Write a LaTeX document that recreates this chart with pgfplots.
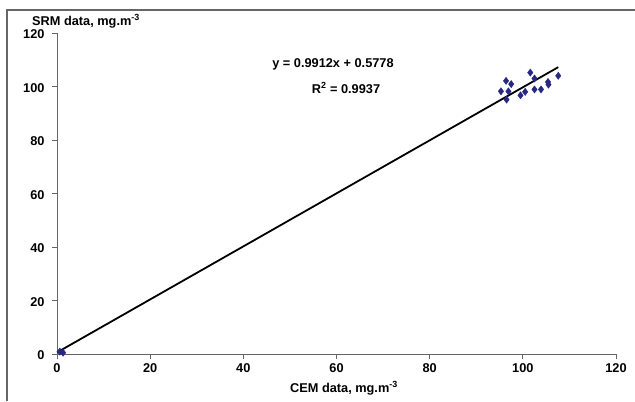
\documentclass[border=0pt]{standalone}
\usepackage{fontspec}
\setmainfont{Liberation Sans}
\usepackage{pgfplots}
\pgfplotsset{compat=1.18}
\definecolor{navy}{RGB}{40,40,130}
\begin{document}
\begin{tikzpicture}[x=1bp,y=1bp]
\path[use as bounding box] (0,0) rectangle (635,401);
\draw[gray!80!black, line width=1.2bp] (7,0) -- (7,391) -- (635,391);
\begin{axis}[
  at={(57bp,47bp)}, anchor=south west,
  scale only axis, width=559bp, height=321bp,
  xmin=0, xmax=120, ymin=0, ymax=120,
  xtick={0,20,...,120}, ytick={0,20,...,120},
  axis x line*=bottom, axis y line*=left,
  axis line style={gray!80!black, line width=0.8bp, -},
  tick align=outside, major tick length=5bp,
  tick style={gray!80!black, line width=0.8bp},
  every tick label/.append style={font=\fontsize{12.8}{15}\selectfont\bfseries},
  yticklabel style={xshift=-4bp, yshift=-1.5bp, inner ysep=1bp},
  xticklabel style={yshift=-1bp},
  /pgf/number format/assume math mode=true,
  clip=false,
]
\addplot[only marks, mark=diamond*, mark size=3.6bp, color=navy] coordinates {
(0.6,0.9) (1.3,0.5)
(96.4,102.1) (97.5,100.9) (95.3,98.2) (96.9,98.2) (96.5,95.1)
(99.5,96.7) (100.5,98.0) (101.6,105.2) (102.5,103.0) (102.5,98.9)
(103.9,98.9) (105.4,101.7) (105.5,100.7) (107.6,104.0)
};
\addplot[black, line width=1.8bp] coordinates {(0,0.5778) (107.6,107.23)};
\end{axis}
\node[font=\fontsize{12.8}{15}\selectfont\bfseries, anchor=base west, inner sep=0] at (32,376) {SRM data, mg.m\textsuperscript{-3}};
\node[font=\fontsize{12.8}{15}\selectfont\bfseries, anchor=base, inner sep=0] at (344,9) {CEM data, mg.m\textsuperscript{-3}};
\node[font=\fontsize{12.8}{15}\selectfont\bfseries, anchor=base, inner sep=0] at (333,334) {y = 0.9912x + 0.5778};
\node[font=\fontsize{12.8}{15}\selectfont\bfseries, anchor=base, inner sep=0] at (346,308) {R\textsuperscript{2} = 0.9937};
\end{tikzpicture}
\end{document}
